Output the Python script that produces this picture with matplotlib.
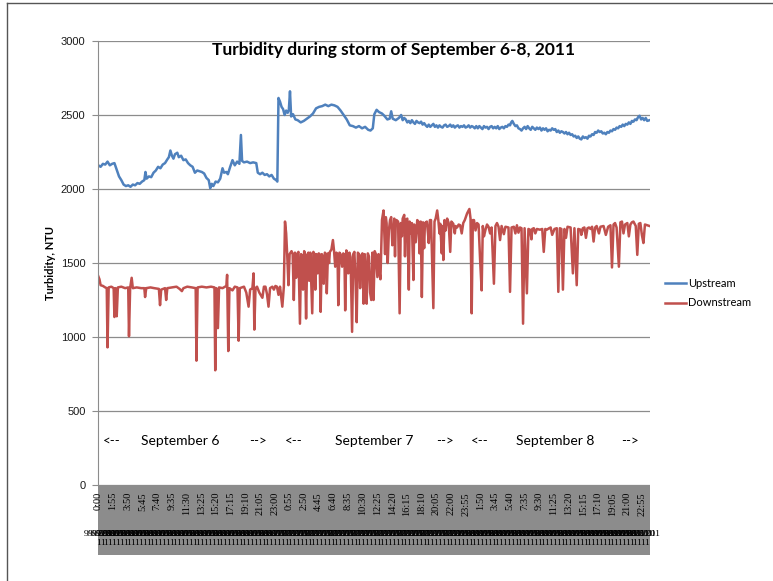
import numpy as np
import matplotlib.pyplot as plt
from matplotlib.patches import Rectangle
from matplotlib.lines import Line2D
from matplotlib.transforms import blended_transform_factory

# readings, hours from midnight Sept 6 (5-min logger, 864 samples)
upstream = [
    (0.0,2160),(0.3,2150),(0.6,2170),(0.9,2165),(1.2,2185),(1.5,2160),(1.8,2170),(2.1,2175),
    (2.4,2130),(2.7,2085),(3.0,2060),(3.3,2030),(3.6,2020),(3.9,2025),(4.2,2015),(4.5,2030),
    (4.8,2025),(5.1,2040),(5.4,2035),(5.7,2050),(6.0,2060),(6.15,2115),(6.3,2070),(6.6,2085),
    (6.9,2080),(7.2,2110),(7.5,2125),(7.8,2150),(8.1,2140),(8.4,2165),(8.7,2175),(9.0,2200),
    (9.2,2215),(9.4,2260),(9.6,2225),(9.8,2205),(10.0,2235),(10.3,2245),(10.5,2215),(10.8,2225),
    (11.1,2195),(11.4,2200),(11.7,2175),(12.0,2160),(12.3,2150),(12.6,2110),(12.9,2125),(13.2,2120),
    (13.5,2115),(13.8,2105),(14.1,2075),(14.4,2060),(14.6,2005),(14.8,2035),(15.0,2020),(15.3,2050),
    (15.6,2045),(15.9,2070),(16.2,2140),(16.4,2110),(16.7,2115),(16.9,2100),(17.2,2150),(17.5,2195),
    (17.8,2160),(18.1,2185),(18.4,2170),(18.6,2365),(18.75,2190),(19.0,2180),(19.4,2185),(19.8,2175),
    (20.2,2180),(20.6,2175),(20.8,2110),(21.1,2100),(21.4,2110),(21.7,2095),(22.0,2100),(22.3,2085),
    (22.6,2095),(22.9,2070),(23.2,2060),(23.35,2050),(23.5,2615),
    (23.7,2590),(23.9,2555),(24.1,2540),(24.3,2500),(24.5,2530),(24.7,2515),(24.85,2535),(25.0,2660),
    (25.15,2490),(25.4,2505),(25.7,2470),(26.0,2465),(26.4,2450),(26.8,2460),(27.2,2475),(27.6,2490),
    (28.0,2510),(28.4,2545),(28.8,2555),(29.2,2560),(29.6,2570),(30.0,2560),(30.4,2570),(30.8,2565),
    (31.2,2555),(31.6,2530),(32.0,2500),(32.4,2470),(32.8,2430),(33.2,2425),(33.6,2415),(34.0,2425),
    (34.4,2410),(34.8,2420),(35.2,2400),(35.5,2395),(35.8,2410),(36.0,2505),(36.3,2535),(36.6,2520),
    (37.0,2510),(37.3,2495),(37.7,2470),(38.0,2475),(38.2,2525),(38.4,2475),(38.8,2465),(39.2,2480),
    (39.5,2500),(39.7,2465),(39.9,2480),(40.1,2470),(40.3,2450),(40.5,2460),(40.7,2445),(40.9,2465),
    (41.1,2450),(41.3,2440),(41.5,2460),(41.7,2450),(41.9,2445),(42.1,2455),(42.3,2435),(42.5,2445),
    (42.7,2430),(42.9,2420),(43.1,2435),(43.3,2420),(43.5,2430),(43.7,2440),(43.9,2420),(44.1,2430),
    (44.3,2415),(44.5,2430),(44.7,2420),(44.9,2415),(45.1,2430),(45.3,2435),(45.5,2420),(45.7,2425),
    (45.9,2435),(46.1,2420),(46.3,2430),(46.5,2415),(46.7,2425),(46.9,2430),(47.1,2415),(47.3,2425),
    (47.5,2420),(47.7,2430),(47.9,2415),(48.1,2420),(48.3,2430),(48.5,2415),(48.7,2425),(48.9,2420),
    (49.1,2410),(49.3,2425),(49.5,2410),(49.7,2425),(49.9,2415),(50.1,2405),(50.3,2425),(50.5,2415),
    (50.7,2420),(50.9,2405),(51.1,2420),(51.3,2425),(51.5,2410),(51.7,2420),(51.9,2410),(52.1,2425),
    (52.3,2405),(52.5,2415),(52.7,2420),(52.9,2410),(53.1,2425),(53.3,2420),(53.5,2435),(53.7,2430),
    (53.85,2450),(54.0,2460),(54.2,2440),(54.4,2425),(54.6,2430),(54.8,2410),(55.0,2405),(55.2,2395),
    (55.4,2410),(55.6,2420),(55.8,2405),(56.0,2425),(56.2,2410),(56.4,2400),(56.6,2420),(56.8,2410),
    (57.0,2400),(57.2,2415),(57.4,2405),(57.6,2415),(57.8,2395),(58.0,2410),(58.2,2400),(58.4,2410),
    (58.6,2390),(58.8,2400),(59.0,2395),(59.2,2410),(59.4,2400),(59.6,2405),(59.8,2385),(60.0,2395),
    (60.2,2380),(60.4,2390),(60.6,2385),(60.8,2375),(61.0,2385),(61.2,2370),(61.4,2380),(61.6,2365),
    (61.8,2370),(62.0,2355),(62.2,2360),(62.4,2345),(62.6,2355),(62.8,2340),(63.0,2335),(63.2,2355),
    (63.4,2345),(63.6,2350),(63.8,2340),(64.0,2360),(64.2,2355),(64.4,2370),(64.6,2365),(64.8,2385),
    (65.0,2380),(65.2,2395),(65.4,2385),(65.6,2390),(65.8,2375),(66.0,2380),(66.2,2370),(66.4,2385),
    (66.6,2380),(66.8,2395),(67.0,2390),(67.2,2405),(67.4,2400),(67.6,2415),(67.8,2410),(68.0,2425),
    (68.2,2420),(68.4,2435),(68.6,2425),(68.8,2440),(69.0,2435),(69.2,2450),(69.4,2440),(69.6,2460),
    (69.8,2455),(70.0,2470),(70.2,2465),(70.4,2485),(70.6,2495),(70.8,2470),(71.0,2480),(71.2,2465),
    (71.4,2480),(71.6,2460),(71.9,2465),
]

downstream = [
    (0.0,1410),(0.15,1390),(0.3,1350),(0.6,1345),(0.9,1335),(1.1,1330),(1.2,930),(1.35,1335),
    (1.7,1340),(2.0,1330),(2.1,1135),(2.25,1330),(2.4,1140),(2.55,1335),(3.0,1340),(3.5,1330),
    (3.9,1335),(4.0,1005),(4.15,1330),(4.35,1400),(4.5,1330),(5.0,1335),(5.6,1330),(6.0,1330),
    (6.1,1270),(6.25,1330),(6.8,1335),(7.3,1330),(7.9,1325),(8.05,1215),(8.2,1320),(8.7,1330),
    (8.85,1250),(9.0,1330),(9.6,1335),(10.2,1340),(10.6,1325),(10.9,1310),(11.1,1330),(11.6,1340),
    (12.2,1335),(12.7,1330),(12.8,840),(12.95,1335),(13.5,1340),(14.1,1335),(14.7,1340),(15.15,1335),
    (15.25,775),(15.4,1330),(15.6,1060),(15.75,1335),(16.2,1330),(16.7,1345),(16.8,1420),(16.95,905),
    (17.1,1330),(17.5,1315),(17.8,1340),(18.15,1335),(18.3,975),(18.45,1330),(19.0,1340),(19.3,1300),
    (19.6,1205),(19.8,1320),(20.1,1330),(20.25,1430),(20.35,1050),(20.5,1330),(20.7,1340),(21.0,1300),
    (21.4,1265),(21.6,1340),(21.8,1340),(22.0,1290),(22.2,1205),(22.4,1330),(22.7,1340),(22.9,1320),
    (23.1,1345),(23.3,1340),(23.5,1285),(23.7,1340),(24.0,1205),(24.2,1340),(24.35,1780),(24.5,1700),
    (24.65,1540),(24.8,1350),
    (24.95,1560),(25.2,1580),(25.35,1560),(25.5,1250),(25.65,1570),(25.8,1400),(25.95,1560),(26.1,1575),
    (26.3,1090),(26.45,1560),(26.6,1545),(26.7,1320),(26.85,1580),(26.95,1560),(27.1,1125),(27.25,1555),
    (27.4,1570),(27.5,1380),(27.65,1570),(27.9,1160),(28.05,1575),(28.2,1560),(28.3,1320),(28.45,1560),
    (28.6,1430),(28.75,1565),(28.85,1560),(29.0,1170),(29.15,1560),(29.3,1540),(29.4,1360),(29.55,1570),
    (29.7,1560),(29.8,1295),(29.95,1565),(30.1,1500),(30.2,1575),(30.4,1590),(30.6,1655),(30.75,1580),
    (30.9,1475),(31.05,1570),(31.2,1560),(31.3,1215),(31.45,1570),(31.6,1560),(31.8,1475),(31.95,1565),
    (32.1,1555),(32.2,1180),(32.35,1585),(32.5,1560),(32.6,1430),(32.75,1570),(32.9,1540),(33.1,1035),
    (33.25,1560),(33.4,1575),(33.55,1380),(33.7,1100),(33.85,1570),(34.0,1560),(34.15,1330),(34.3,1550),
    (34.45,1565),(34.6,1225),(34.75,1560),(34.9,1420),(35.0,1225),(35.15,1565),(35.3,1545),(35.45,1300),
    (35.6,1250),(35.75,1570),(35.9,1250),(36.05,1580),(36.2,1560),(36.4,1405),(36.55,1560),(36.7,1430),
    (36.8,1390),(37.0,1790),(37.2,1855),(37.4,1560),(37.5,1810),(37.6,1770),(37.75,1500),(37.9,1720),
    (38.05,1790),(38.2,1810),(38.35,1620),(38.5,1700),(38.6,1800),(38.7,1545),(38.8,1790),(38.9,1790),
    (39.1,1780),(39.3,1160),(39.45,1770),(39.6,1680),(39.7,1800),(39.9,1825),(40.0,1545),(40.1,1790),
    (40.3,1800),(40.5,1320),(40.6,1780),(40.75,1700),(40.9,1770),(41.1,1385),(41.2,1760),(41.4,1640),
    (41.6,1790),(41.75,1780),(41.9,1565),(42.05,1780),(42.2,1270),(42.35,1775),(42.5,1600),(42.6,1770),
    (42.85,1780),(43.0,1700),(43.1,1635),(43.25,1790),(43.4,1790),(43.55,1500),(43.7,1195),(43.85,1780),
    (44.0,1800),(44.2,1855),(44.35,1790),(44.5,1700),(44.6,1765),(44.8,1565),(44.9,1750),(45.0,1520),
    (45.15,1790),(45.3,1720),(45.5,1800),(45.7,1770),(45.9,1575),(46.05,1780),(46.3,1765),(46.5,1700),
    (46.6,1750),(46.8,1740),(47.0,1760),(47.2,1755),(47.4,1700),(47.6,1770),(47.8,1790),(48.1,1835),
    (48.4,1865),(48.55,1800),(48.7,1160),(48.85,1790),(49.0,1790),(49.2,1720),(49.4,1770),(49.6,1760),
    (49.8,1520),(50.0,1315),(50.15,1750),(50.3,1680),(50.5,1725),(50.7,1760),(50.9,1745),(51.1,1700),
    (51.3,1740),(51.6,1360),(51.8,1750),(52.0,1770),(52.2,1745),(52.4,1655),(52.6,1750),(52.9,1695),
    (53.1,1745),(53.5,1740),(53.7,1305),(53.9,1740),(54.2,1745),(54.4,1700),(54.6,1755),(54.8,1705),
    (55.0,1740),(55.2,1735),(55.4,1090),(55.6,1735),(55.9,1295),(56.1,1730),(56.3,1725),(56.5,1660),
    (56.6,1730),(56.8,1735),(57.0,1700),(57.2,1730),(57.6,1725),(57.9,1730),(58.1,1575),(58.3,1730),
    (58.5,1725),(58.8,1735),(59.0,1740),(59.2,1690),(59.5,1730),(59.8,1735),(60.0,1305),(60.2,1735),
    (60.4,1730),(60.6,1320),(60.8,1730),(61.0,1670),(61.2,1745),(61.6,1740),(61.9,1430),(62.1,1735),
    (62.4,1350),(62.6,1730),(62.9,1725),(63.0,1690),(63.2,1735),(63.4,1740),(63.6,1670),(63.8,1735),
    (64.0,1740),(64.2,1730),(64.4,1745),(64.6,1645),(64.8,1740),(65.0,1750),(65.3,1700),(65.5,1745),
    (65.9,1750),(66.2,1690),(66.5,1745),(66.8,1755),(67.0,1470),(67.2,1760),(67.4,1770),(67.6,1740),
    (67.9,1475),(68.1,1775),(68.3,1780),(68.5,1700),(68.7,1760),(69.0,1770),(69.2,1680),(69.4,1760),
    (69.6,1775),(69.8,1780),(70.1,1750),(70.3,1555),(70.5,1765),(70.7,1770),(70.9,1690),(71.1,1635),
    (71.3,1760),(71.6,1755),(71.9,1750),
]

tick_labels = ['0:00','1:55','3:50','5:45','7:40','9:35','11:30','13:25','15:20','17:15','19:10','21:05','23:00',
               '0:55','2:50','4:45','6:40','8:35','10:30','12:25','14:20','16:15','18:10','20:05','22:00','23:55',
               '1:50','3:45','5:40','7:35','9:30','11:25','13:20','15:15','17:10','19:05','21:00','22:55']
dates = ['9/6/2011', '9/7/2011', '9/8/2011']
day_names = ['September 6', 'September 7', 'September 8']

n_samples = 864          # 5 minute steps
step = 5 / 60.           # hours
tick_every = 23
date_every = 6

ut, uv = zip(*upstream)
dt, dv = zip(*downstream)

#%%
W, H = 773, 581
fig = plt.figure(figsize=(W/100, H/100), dpi=100)
ax = fig.add_axes([98/W, 1-485/H, 552/W, 444/H])

ax.plot(ut, uv, color='#4F81BD', lw=1.8, label='Upstream')
ax.plot(dt, dv, color='#C0504D', lw=1.8, label='Downstream')

ax.set_xlim(-step/2, (n_samples-0.5)*step)
ax.set_ylim(0, 3000)
ax.set_yticks(np.arange(0, 3001, 500))
ax.yaxis.grid(True, color='#8c8c8c', lw=0.9)
ax.set_axisbelow(True)
for s in ['top', 'right', 'bottom']:
    ax.spines[s].set_visible(False)
ax.spines['left'].set_color('#8c8c8c')
ax.tick_params(axis='y', length=4, color='#8c8c8c', labelsize=8, pad=5, labelcolor='#1a1a1a')
for lab in ax.get_yticklabels():
    lab.set_fontfamily('Liberation Sans')

tick_pos = np.arange(len(tick_labels)) * tick_every * step
ax.set_xticks(tick_pos, tick_labels, rotation=90, fontsize=7.5, fontfamily='Liberation Serif')
ax.tick_params(axis='x', length=0, pad=5)

# grey band behind the category labels
bh = 70/444
ax.add_patch(Rectangle((0, -bh), 1, bh, transform=ax.transAxes, clip_on=False,
                       fc='#8c8c8c', ec='none', zorder=0.1))

# second level of the category axis (dates)
tr = blended_transform_factory(ax.transData, ax.transAxes)
for k in range(0, n_samples, date_every):
    d = dates[k // 288]
    ax.text(k*step, -0.1205, d[:-1] + '\n' + d[-1], transform=tr, ha='center', va='center',
            fontsize=6.8, family='Liberation Serif', clip_on=False, zorder=3)

# day markers
ny = (485-441)/444
for i, name in enumerate(day_names):
    x0 = [0.025, 0.355, 0.692][i]
    xc = [0.149, 0.500, 0.828][i]
    x1 = [0.290, 0.629, 0.964][i]
    ax.text(x0, ny, '<--', transform=ax.transAxes, ha='center', va='center', fontsize=9.5, family='Lato')
    ax.text(xc, ny, name, transform=ax.transAxes, ha='center', va='center', fontsize=10, family='Lato')
    ax.text(x1, ny, '-->', transform=ax.transAxes, ha='center', va='center', fontsize=9.5, family='Lato')

ax.text(0.536, (485-55)/444, 'Turbidity during storm of September 6-8, 2011', transform=ax.transAxes,
        ha='center', va='baseline', fontsize=12.5, fontweight='bold', family='Lato')

fig.text(50/W, 1-263/H, 'Turbidity, NTU', rotation=90, ha='center', va='center',
         fontsize=8, fontweight='bold', family='Lato')

fig.legend(loc='center left', bbox_to_anchor=(665/W, 1-293/H), frameon=False,
           prop={'family': 'Lato', 'size': 8}, handlelength=1.9, handletextpad=0.2,
           labelspacing=0.8, borderaxespad=0, borderpad=0)

# outer chart border
fig.add_artist(Line2D([7/W, 7/W], [0, 1-3/H], color='#555555', lw=1))
fig.add_artist(Line2D([7/W, 1], [1-3/H, 1-3/H], color='#555555', lw=1))

fig.savefig('out.png', dpi=100)
